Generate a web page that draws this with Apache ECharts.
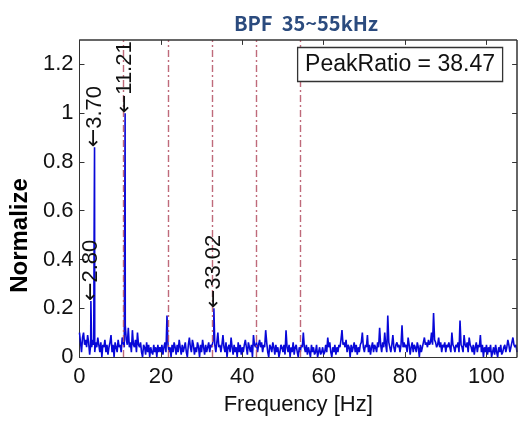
<!DOCTYPE html>
<html><head><meta charset="utf-8">
<script src="https://cdn.jsdelivr.net/npm/echarts@6/dist/echarts.min.js"></script>
<style>html,body{margin:0;padding:0;background:#fff}#c{width:519px;height:421px}</style>
</head><body><div id="c"></div>
<script>
const titleText = 'BPF  35~55kHz';
const xName = 'Frequency [Hz]';
const yName = 'Normalize';
const peakRatioText = 'PeakRatio = 38.47';

// spectrum noise floor, one value every freqStep Hz starting at 0 Hz (rows of 5 Hz)
const freqStep = 0.25;
const noiseValues = [
  0.10,0.06,0.02,0.08,0.10,0.05,0.07,0.04,0.09,0.06,0.01,0.05,0.04,0.07,0.05,0.02,0.06,0.04,0.08,0.05,
  0.02,0.06,0.00,0.05,0.04,0.07,0.02,0.05,0.01,0.04,0.06,0.09,0.02,0.05,0.00,0.06,0.04,0.02,0.07,0.04,
  0.05,0.02,0.08,0.06,0.04,0.13,0.07,0.05,0.12,0.04,0.06,0.02,0.11,0.05,0.04,0.07,0.02,0.10,0.05,0.04,
  0.06,0.02,0.00,0.05,0.04,0.01,0.06,0.02,0.05,0.00,0.04,0.02,0.01,0.05,0.02,0.04,0.00,0.05,0.02,0.04,
  0.02,0.05,0.01,0.04,0.06,0.02,0.17,0.05,0.02,0.04,0.00,0.05,0.02,0.06,0.04,0.01,0.05,0.02,0.07,0.04,
  0.01,0.05,0.02,0.04,0.06,0.02,0.00,0.05,0.08,0.04,0.02,0.07,0.05,0.01,0.04,0.02,0.06,0.04,0.00,0.05,
  0.02,0.07,0.04,0.01,0.05,0.02,0.04,0.06,0.02,0.05,0.04,0.06,0.08,0.05,0.02,0.06,0.10,0.04,0.05,0.02,
  0.05,0.09,0.04,0.02,0.06,0.00,0.04,0.05,0.02,0.08,0.04,0.01,0.05,0.02,0.04,0.00,0.06,0.02,0.05,0.01,
  0.04,0.02,0.05,0.07,0.04,0.01,0.06,0.04,0.02,0.05,0.00,0.09,0.05,0.04,0.06,0.02,0.05,0.07,0.04,0.06,
  0.02,0.05,0.04,0.11,0.06,0.02,0.00,0.05,0.04,0.02,0.06,0.04,0.01,0.05,0.02,0.04,0.00,0.02,0.05,0.04,
  0.02,0.05,0.01,0.11,0.04,0.02,0.05,0.00,0.04,0.02,0.06,0.01,0.04,0.05,0.02,0.00,0.04,0.02,0.05,0.04,
  0.10,0.04,0.02,0.05,0.01,0.04,0.02,0.00,0.05,0.02,0.04,0.01,0.02,0.05,0.00,0.02,0.04,0.01,0.02,0.04,
  0.01,0.02,0.05,0.02,0.08,0.04,0.06,0.02,0.00,0.04,0.02,0.05,0.01,0.04,0.02,0.05,0.04,0.07,0.11,0.05,
  0.06,0.04,0.07,0.02,0.05,0.04,0.00,0.05,0.02,0.04,0.06,0.02,0.05,0.01,0.04,0.02,0.05,0.06,0.10,0.04,
  0.02,0.05,0.04,0.09,0.02,0.05,0.01,0.04,0.06,0.02,0.05,0.04,0.02,0.06,0.04,0.12,0.05,0.02,0.06,0.04,
  0.10,0.05,0.02,0.17,0.06,0.04,0.02,0.05,0.09,0.04,0.02,0.05,0.06,0.04,0.05,0.02,0.05,0.13,0.04,0.06,
  0.04,0.05,0.02,0.08,0.05,0.01,0.04,0.06,0.02,0.05,0.04,0.02,0.06,0.04,0.00,0.05,0.02,0.04,0.06,0.08,
  0.05,0.06,0.04,0.07,0.05,0.06,0.10,0.05,0.18,0.07,0.06,0.04,0.05,0.08,0.04,0.06,0.02,0.05,0.04,0.06,
  0.02,0.05,0.04,0.06,0.04,0.02,0.10,0.05,0.04,0.02,0.05,0.04,0.06,0.02,0.15,0.05,0.04,0.02,0.09,0.05,
  0.04,0.06,0.02,0.08,0.05,0.04,0.02,0.05,0.01,0.04,0.06,0.02,0.05,0.04,0.09,0.02,0.05,0.00,0.04,0.02,
  0.05,0.01,0.04,0.02,0.05,0.00,0.02,0.04,0.01,0.05,0.02,0.00,0.04,0.02,0.05,0.01,0.02,0.04,0.05,0.02,
  0.04,0.07,0.05,0.02,0.04,0.06,0.08,0.05,0.04,0.05,0.02
];

// dominant peaks (exact frequencies)
const peakFreqs   = [2.80, 3.60, 3.70, 11.21, 33.02];
const peakValues  = [0.23, 0.52, 0.86, 1.00, 0.20];
const peakLabels  = ['2.80', '', '3.70', '11.21', '33.02'];

// dash-dot harmonic markers
const harmonicFreqs = [10.85, 21.70, 32.55, 43.40, 54.25];

const xMin = 0, xMax = 107.5, xInterval = 20;
const yMin = 0, yMax = 1.3, yInterval = 0.2;
const xTickValues = [20, 40, 60, 80, 100];
const yTickValues = [0.2, 0.4, 0.6, 0.8, 1.0, 1.2];

const spectrum = noiseValues.map((v, i) => [i * freqStep, v])
  .concat(peakFreqs.map((f, i) => [f, peakValues[i]]))
  .sort((a, b) => a[0] - b[0]);

const FONT = '"Liberation Sans", Arial, sans-serif';
const axisCol = '#333';

const frameStyle = {color: axisCol, width: 1.5, type: 'solid', opacity: 1};
const tickStyle = {color: axisCol, width: 1, type: 'solid', opacity: 1};
const xTickLen = 1.2, yTickLen = 0.02;

const harmonicLines = harmonicFreqs.map(f => ({xAxis: f}));
const frameLines = [
  [{coord: [xMin, yMax], lineStyle: frameStyle}, {coord: [xMax, yMax]}],
  [{coord: [xMax, yMin], lineStyle: frameStyle}, {coord: [xMax, yMax]}]
].concat(xTickValues.map(x => [{coord: [x, yMax], lineStyle: tickStyle}, {coord: [x, yMax - yTickLen]}]))
 .concat(yTickValues.map(y => [{coord: [xMax, y], lineStyle: tickStyle}, {coord: [xMax - xTickLen, y]}]));

const chart = echarts.init(document.getElementById('c'), null, {renderer: 'canvas'});
chart.setOption({
  backgroundColor: '#fff',
  animation: false,
  title: [{
    text: titleText, left: 301, top: 8, textAlign: 'center',
    textStyle: {color: '#2b4b7e', fontSize: 20, fontWeight: 'bold', fontFamily: '"Noto Sans CJK SC", "Noto Sans", sans-serif'}
  }, {
    text: peakRatioText, right: 16, top: 47,
    borderColor: '#333', borderWidth: 1.3, backgroundColor: '#fff',
    padding: [5, 8, 5, 8],
    textStyle: {color: '#111', fontSize: 23, fontWeight: 'normal', fontFamily: FONT, lineHeight: 25}
  }],
  grid: {left: 78, right: 2, top: 40, bottom: 62},
  xAxis: {
    type: 'value', min: xMin, max: xMax, interval: xInterval,
    name: xName, nameLocation: 'middle', nameGap: 37,
    nameTextStyle: {color: '#111', fontSize: 22, fontFamily: FONT},
    axisLine: {show: true, onZero: false, lineStyle: {color: axisCol, width: 1}},
    axisTick: {show: true, inside: true, length: 5, lineStyle: {color: axisCol}},
    axisLabel: {color: '#111', fontSize: 22, fontFamily: FONT, margin: 9, showMaxLabel: false},
    splitLine: {show: false}
  },
  yAxis: {
    type: 'value', min: yMin, max: yMax, interval: yInterval,
    name: yName, nameLocation: 'middle', nameGap: 46,
    nameTextStyle: {color: '#000', fontSize: 24, fontWeight: 'bold', fontFamily: FONT, padding: [0, 74, 0, 0]},
    axisLine: {show: true, onZero: false, lineStyle: {color: axisCol, width: 1}},
    axisTick: {show: true, inside: true, length: 5, lineStyle: {color: axisCol}},
    axisLabel: {color: '#111', fontSize: 22, fontFamily: FONT, margin: 6, showMaxLabel: false},
    splitLine: {show: false}
  },
  series: [{
    type: 'line', data: spectrum, showSymbol: false, symbol: 'none', clip: false,
    lineStyle: {color: '#0808d8', width: 1.6},
    markLine: {
      silent: true, symbol: 'none', label: {show: false},
      lineStyle: {color: '#b85a6c', width: 1.4, type: [7, 3, 2, 3], opacity: 0.9},
      data: harmonicLines.concat(frameLines)
    },
    markPoint: {
      symbol: 'circle', symbolSize: 1, itemStyle: {color: 'rgba(0,0,0,0)'},
      data: peakFreqs.map((f, i) => ({coord: [f, peakValues[i]], name: peakLabels[i]}))
        .filter(d => d.name),
      label: {
        show: true, position: 'inside', formatter: p => '{a|\u2190}{b|' + p.name + '}', rotate: 90,
        align: 'left', verticalAlign: 'middle',
        rich: {
          a: {color: '#111', fontSize: 22, fontFamily: '"DejaVu Sans", sans-serif'},
          b: {color: '#111', fontSize: 22, fontFamily: FONT}
        }
      }
    }
  }]
});
</script></body></html>
